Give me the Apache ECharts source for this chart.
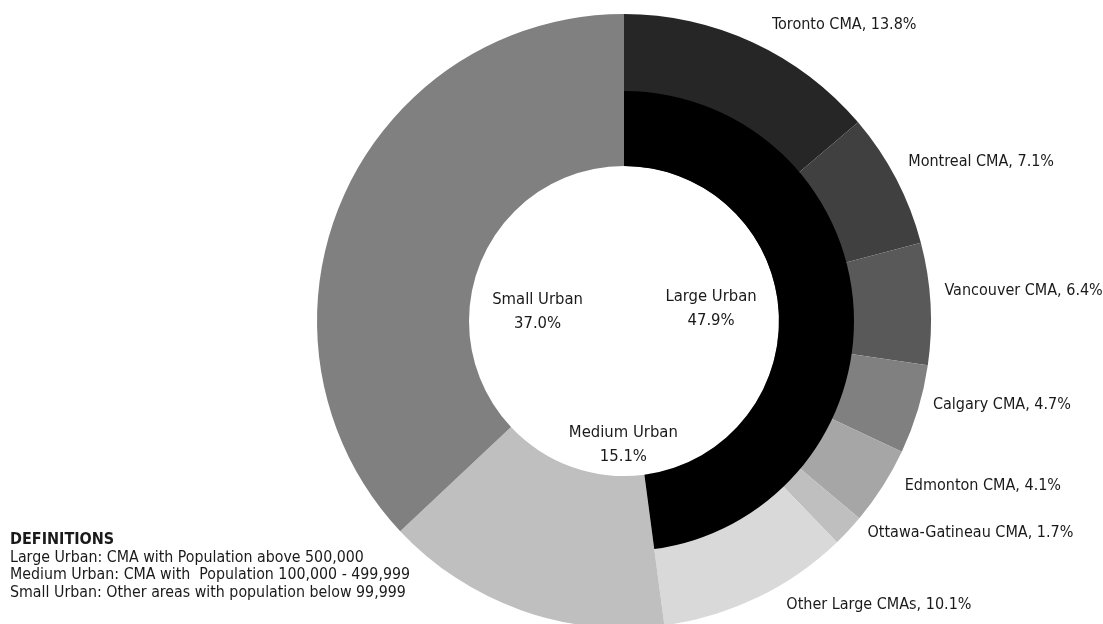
<!DOCTYPE html>
<html>
<head>
<meta charset="utf-8">
<script src="https://cdn.jsdelivr.net/npm/echarts@6/dist/echarts.min.js"></script>
<style>
html,body{margin:0;padding:0;background:#fff;}
#c{width:1103px;height:624px;}
</style>
</head>
<body>
<div id="c"></div>
<script>
// ---- data ----
var groupNames = ['Large Urban', 'Medium Urban', 'Small Urban'];
var groupValues = [47.9, 15.1, 37.0];
var cityNames = ['Toronto CMA', 'Montreal CMA', 'Vancouver CMA', 'Calgary CMA', 'Edmonton CMA', 'Ottawa-Gatineau CMA', 'Other Large CMAs'];
var cityValues = [13.8, 7.1, 6.4, 4.7, 4.1, 1.7, 10.1];
var definitions = [
  'Large Urban: CMA with Population above 500,000',
  'Medium Urban: CMA with  Population 100,000 - 499,999',
  'Small Urban: Other areas with population below 99,999'
];

// ---- styles ----
var FONT = "'DejaVu Sans Condensed', 'Liberation Sans', Arial, sans-serif";
var cityColors = ['#262626', '#404040', '#595959', '#808080', '#a6a6a6', '#bfbfbf', '#d9d9d9'];
var groupColors = ['#000000', '#bfbfbf', '#808080'];
var outerLabelShift = [[4, -18], [-3, -17], [-1, -13], [0, -5], [7, 0], [4, 2], [14, 7]];
var innerLabelShift = [[-108, 1], [65, -60], [93, 68]];
var CENTER = [624, 321];

var outerData = cityNames.map(function (n, i) {
  return { name: n, value: cityValues[i], itemStyle: { color: cityColors[i] } };
});
for (var g = 1; g < groupNames.length; g++) {
  outerData.push({ name: groupNames[g], value: groupValues[g], itemStyle: { color: groupColors[g] }, label: { show: false } });
}
var innerData = groupNames.map(function (n, i) {
  return { name: n, value: groupValues[i], itemStyle: { color: i === 0 ? groupColors[0] : 'rgba(0,0,0,0)' } };
});

var chart = echarts.init(document.getElementById('c'), null, { renderer: 'canvas' });
chart.setOption({
  backgroundColor: '#ffffff',
  animation: false,
  series: [
    {
      type: 'pie',
      center: CENTER,
      radius: [155, 307],
      startAngle: 90,
      clockwise: true,
      silent: true,
      avoidLabelOverlap: false,
      itemStyle: { borderWidth: 0 },
      label: {
        show: true,
        position: 'outside',
        color: '#1a1a1a',
        fontFamily: FONT,
        fontSize: 16,
        distanceToLabelLine: 5,
        formatter: function (p) { return p.name + ', ' + p.value.toFixed(1) + '%'; }
      },
      labelLine: { show: false, length: 0, length2: 10 },
      labelLayout: function (p) {
        var s = outerLabelShift[p.dataIndex] || [0, 0];
        return { dx: s[0], dy: s[1] };
      },
      data: outerData
    },
    {
      type: 'pie',
      center: CENTER,
      radius: [155, 230],
      startAngle: 90,
      clockwise: true,
      silent: true,
      avoidLabelOverlap: false,
      itemStyle: { borderWidth: 0 },
      label: {
        show: true,
        position: 'inside',
        color: '#1a1a1a',
        fontFamily: FONT,
        fontSize: 16.5,
        lineHeight: 24,
        align: 'center',
        formatter: function (p) { return p.name + '\n' + p.value.toFixed(1) + '%'; }
      },
      labelLine: { show: false },
      labelLayout: function (p) {
        var s = innerLabelShift[p.dataIndex] || [0, 0];
        return { dx: s[0], dy: s[1] };
      },
      data: innerData
    }
  ],
  graphic: [
    {
      type: 'text',
      left: 10,
      top: 532,
      style: {
        text: '{b|DEFINITIONS}\n' + definitions.map(function (d) { return '{n|' + d + '}'; }).join('\n'),
        rich: {
          b: { fontFamily: FONT, fontSize: 16, fontWeight: 'bold', lineHeight: 18, fill: '#1a1a1a' },
          n: { fontFamily: FONT, fontSize: 15.8, lineHeight: 17.5, fill: '#1a1a1a' }
        }
      }
    }
  ]
});
</script>
</body>
</html>
